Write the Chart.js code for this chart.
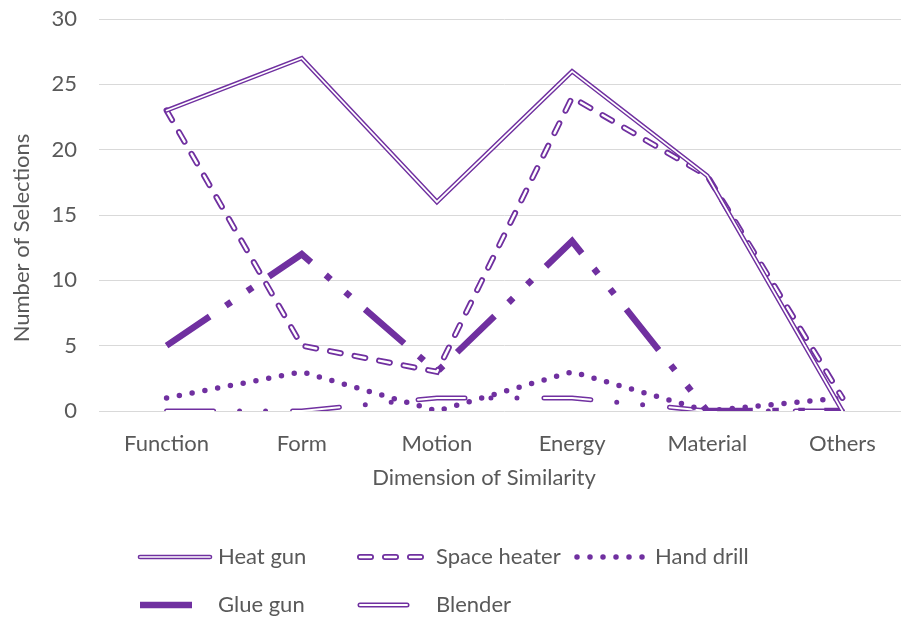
<!DOCTYPE html>
<html>
<head>
<meta charset="utf-8">
<script src="https://cdn.jsdelivr.net/npm/chart.js@4/dist/chart.umd.min.js"></script>
<style>
  html, body { margin: 0; padding: 0; overflow: hidden; background: #fff; }
  canvas { display: block; }
</style>
</head>
<body>
<canvas id="chart" width="912" height="618"></canvas>
<script>
// Dimensions of similarity and number of selections per product
const categories = ['Function', 'Form', 'Motion', 'Energy', 'Material', 'Others'];
const heatGun = [23, 27, 16, 26, 18, 0];
const spaceHeater = [23, 5, 3, 24, 18, 1];
const handDrill = [1, 3, 0, 3, 0, 1];
const glueGun = [5, 12, 3, 13, 0, 0];
const blender = [0, 0, 1, 1, 0, 0];
const yTicks = [0, 5, 10, 15, 20, 25, 30];

const PURPLE = '#7030a0';
const TEXT = '#595959';
const GRID = '#d9d9d9';
const FONT = 'Lato, "Open Sans", sans-serif';
const FONT_SIZE = 22;

// Legend placement: sample line start, sample length, label x, row y
const legendLayout = [
  { x: 140, len: 70, textX: 218, y: 557 },
  { x: 360, len: 67, textX: 436, y: 557 },
  { x: 577, len: 70, textX: 655, y: 557 },
  { x: 140, len: 60, textX: 218, y: 605 },
  { x: 360, len: 55, textX: 436, y: 605 }
];

const datasets = [
  { label: 'Heat gun', data: heatGun, borderWidth: 4.6, borderDash: [],
    borderCapStyle: 'round', innerWidth: 1.7 },
  { label: 'Space heater', data: spaceHeater, borderWidth: 6, borderDash: [11, 14],
    borderCapStyle: 'round', innerWidth: 2.4 },
  { label: 'Hand drill', data: handDrill, borderWidth: 5.5, borderDash: [0, 13],
    borderCapStyle: 'round' },
  { label: 'Glue gun', data: glueGun, borderWidth: 6.5,
    borderDash: [52, 19.5, 6.5, 19.5, 6.5, 19.5], borderCapStyle: 'butt' },
  { label: 'Blender', data: blender, borderWidth: 5, borderDash: [47, 26, 0, 26, 0, 27],
    borderCapStyle: 'round', innerWidth: 2, innerDash: [47, 79] }
].map(d => Object.assign({
  borderColor: PURPLE,
  backgroundColor: PURPLE,
  borderJoinStyle: 'miter',
  pointRadius: 0,
  pointHoverRadius: 0,
  tension: 0,
  fill: false
}, d));

// Stroke a polyline with the outer style of a series and its white core
function strokeSeries(ctx, pts, ds, withOuter) {
  const path = () => {
    ctx.beginPath();
    pts.forEach((p, i) => (i ? ctx.lineTo(p.x, p.y) : ctx.moveTo(p.x, p.y)));
  };
  ctx.save();
  ctx.lineJoin = ds.borderJoinStyle;
  ctx.lineCap = ds.borderCapStyle;
  if (withOuter) {
    path();
    ctx.strokeStyle = ds.borderColor;
    ctx.lineWidth = ds.borderWidth;
    ctx.setLineDash(ds.borderDash);
    ctx.stroke();
  }
  if (ds.innerWidth) {
    path();
    ctx.strokeStyle = '#ffffff';
    ctx.lineWidth = ds.innerWidth;
    ctx.setLineDash(ds.innerDash || ds.borderDash);
    ctx.stroke();
  }
  ctx.restore();
}

const decorations = {
  id: 'decorations',
  afterDatasetDraw(chart, args) {
    const ds = chart.data.datasets[args.index];
    if (!ds.innerWidth) return;
    const ctx = chart.ctx;
    const a = chart.chartArea;
    ctx.save();
    ctx.beginPath();
    ctx.rect(a.left, a.top - 10, a.right - a.left, a.bottom - a.top + 20);
    ctx.clip();
    strokeSeries(ctx, args.meta.data.map(p => ({ x: p.x, y: p.y })), ds, false);
    ctx.restore();
  },
  afterDraw(chart) {
    const ctx = chart.ctx;
    ctx.save();
    ctx.fillStyle = TEXT;
    ctx.font = `${FONT_SIZE}px ${FONT}`;
    ctx.textBaseline = 'middle';

    // axis titles
    ctx.textAlign = 'center';
    ctx.fillText('Dimension of Similarity', 484, 478);
    ctx.save();
    ctx.translate(22, 238);
    ctx.rotate(-Math.PI / 2);
    ctx.fillText('Number of Selections', 0, 0);
    ctx.restore();

    // legend
    ctx.textAlign = 'left';
    chart.data.datasets.forEach((ds, i) => {
      const L = legendLayout[i];
      strokeSeries(ctx, [{ x: L.x, y: L.y }, { x: L.x + L.len, y: L.y }], ds, true);
      ctx.fillStyle = TEXT;
      ctx.fillText(ds.label, L.textX, L.y);
    });
    ctx.restore();
  }
};

new Chart(document.getElementById('chart'), {
  type: 'line',
  data: { labels: categories, datasets },
  plugins: [decorations],
  options: {
    responsive: false,
    animation: false,
    events: [],
    layout: { padding: { top: 19, right: 2, left: 0, bottom: 157 } },
    plugins: { legend: { display: false }, tooltip: { enabled: false }, title: { display: false } },
    scales: {
      x: {
        type: 'category',
        offset: true,
        grid: { display: false, drawTicks: false },
        border: { display: false },
        ticks: { color: TEXT, font: { family: FONT, size: FONT_SIZE }, padding: 20,
                 maxRotation: 0, autoSkip: false },
        afterFit: s => { s.height = 50; s.paddingLeft = 0; s.paddingRight = 0; }
      },
      y: {
        min: 0, max: 30,
        afterBuildTicks: s => { s.ticks = yTicks.map(v => ({ value: v })); },
        grid: { color: GRID, lineWidth: 1, drawTicks: false },
        border: { display: false },
        ticks: { color: TEXT, font: { family: FONT, size: FONT_SIZE }, padding: 22 },
        afterFit: s => { s.width = 99; s.paddingTop = 0; s.paddingBottom = 0; }
      }
    }
  }
});
</script>
</body>
</html>
